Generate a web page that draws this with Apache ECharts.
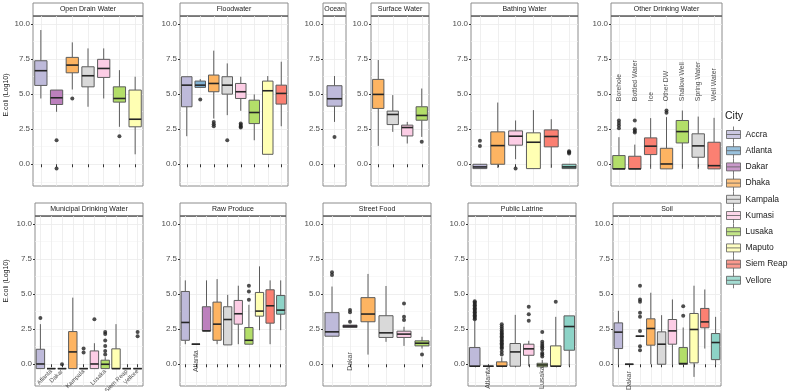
<!DOCTYPE html>
<html>
<head>
<meta charset="utf-8">
<script src="https://cdn.jsdelivr.net/npm/echarts@6/dist/echarts.min.js"></script>
<style>html,body{margin:0;padding:0;background:#fff}#chart{width:789px;height:391px}</style>
</head>
<body>
<div id="chart"></div>
<script>
const cities = ['Accra', 'Atlanta', 'Dakar', 'Dhaka', 'Kampala', 'Kumasi', 'Lusaka', 'Maputo', 'Siem Reap', 'Vellore']
const cityColors = ['#BEBADA', '#80B1D3', '#BC80BD', '#FDB462', '#D9D9D9', '#FCCDE5', '#B3DE69', '#FFFFB3', '#FB8072', '#8DD3C7']
const yTicks = [0, 2.5, 5, 7.5, 10]
const yMinorTicks = [-1.25, 1.25, 3.75, 6.25, 8.75]

// boxes are [min, q1, median, q3, max] (log10 E.coli)
const openDrainCats = ['Accra', 'Dakar', 'Dhaka', 'Kampala', 'Kumasi', 'Lusaka', 'Maputo']
const openDrainBoxes = [
  [4.69, 5.62, 6.67, 7.38, 9.57], [3.74, 4.26, 4.74, 5.29, 5.29], [5.33, 6.52, 7.07, 7.62, 8.69],
  [4.1, 5.52, 6.31, 6.95, 8.26], [4.69, 6.19, 6.83, 7.48, 8.26], [2.67, 4.43, 4.69, 5.52, 6.71],
  [0.71, 2.67, 3.21, 5.29, 6.24]
]
const openDrainOutliers = [['Dakar', 1.71], ['Dakar', -0.31], ['Dhaka', 4.69], ['Lusaka', 2.0]]

const floodCats = ['Accra', 'Atlanta', 'Dhaka', 'Kampala', 'Kumasi', 'Lusaka', 'Maputo', 'Siem Reap']
const floodBoxes = [
  [2.0, 4.1, 5.64, 6.24, 6.24], [5.48, 5.48, 5.64, 5.93, 6.07], [3.26, 5.17, 5.76, 6.36, 8.1],
  [3.5, 5.0, 5.64, 6.24, 7.19], [3.81, 4.69, 5.17, 5.76, 6.24], [1.71, 2.9, 3.69, 4.57, 4.98],
  [0.71, 0.71, 5.24, 5.93, 6.29], [2.71, 4.29, 5.05, 5.64, 7.31]
]
const floodOutliers = [['Atlanta', 4.62], ['Dhaka', 3.02], ['Dhaka', 2.86], ['Dhaka', 2.71], ['Kampala', 1.71],
  ['Kumasi', 2.9], ['Kumasi', 2.8], ['Kumasi', 2.7], ['Kumasi', 2.62]]

const oceanCats = ['Accra']
const oceanBoxes = [[3.02, 4.14, 4.67, 5.6, 6.29]]
const oceanOutliers = [['Accra', 1.95]]

const surfaceCats = ['Dhaka', 'Kampala', 'Kumasi', 'Lusaka']
const surfaceBoxes = [
  [1.31, 3.98, 4.98, 6.05, 7.43], [2.31, 2.83, 3.55, 3.79, 4.93],
  [1.48, 2.02, 2.62, 2.79, 3.02], [1.95, 3.14, 3.48, 4.1, 5.4]
]
const surfaceOutliers = [['Lusaka', 1.6]]

const bathingCats = ['Accra', 'Dhaka', 'Kumasi', 'Maputo', 'Siem Reap', 'Vellore']
const bathingBoxes = [
  [-0.31, -0.31, -0.19, 0.0, 0.0], [-0.26, 0.0, 1.33, 2.31, 4.4], [0.36, 1.36, 2.0, 2.38, 3.12],
  [-0.31, -0.31, 1.57, 2.24, 3.86], [-0.26, 1.24, 1.98, 2.45, 3.21], [-0.31, -0.31, -0.19, 0.0, 0.0]
]
const bathingOutliers = [['Accra', 1.67], ['Accra', 1.31], ['Kumasi', -0.31], ['Vellore', 0.93], ['Vellore', 0.85], ['Vellore', 0.76]]

const otherDwCats = ['Borehole', 'Bottled Water', 'Ice', 'Other DW', 'Shallow Well', 'Spring Water', 'Well Water']
const otherDwCity = ['Lusaka', 'Siem Reap', 'Siem Reap', 'Dhaka', 'Lusaka', 'Kampala', 'Siem Reap']
const otherDwBoxes = [
  [-0.33, -0.33, -0.33, 0.62, 1.93], [-0.33, -0.33, -0.33, 0.57, 1.4], [-0.33, 0.69, 1.29, 1.88, 3.29],
  [-0.33, -0.33, 0.02, 1.14, 3.36], [-0.33, 1.52, 2.33, 3.12, 3.83], [-0.33, 0.5, 1.31, 2.17, 3.4],
  [-0.33, -0.33, -0.1, 1.57, 3.31]
]
const otherDwOutliers = [['Borehole', 3.12], ['Borehole', 2.95], ['Borehole', 2.76], ['Borehole', 2.57],
  ['Bottled Water', 3.12], ['Bottled Water', 2.5], ['Bottled Water', 2.38], ['Bottled Water', 2.26],
  ['Other DW', 3.83], ['Other DW', 3.67]]
const otherDwLabels = [['Borehole', 4.5, 'Borehole'], ['Bottled Water', 4.5, 'Bottled Water'], ['Ice', 4.5, 'Ice'],
  ['Other DW', 4.5, 'Other DW'], ['Shallow Well', 4.5, 'Shallow Well'], ['Spring Water', 4.5, 'Spring Water'],
  ['Well Water', 4.5, 'Well Water']]

const municipalCats = cities
const municipalBoxes = [
  [-0.31, -0.31, 0.02, 1.07, 2.86], [-0.31, -0.31, -0.31, -0.31, -0.31], [-0.31, -0.31, -0.31, -0.31, -0.31],
  [-0.31, -0.31, 0.88, 2.33, 4.75], [-0.31, -0.31, -0.31, -0.31, -0.31], [-0.31, -0.31, 0.02, 0.95, 1.5],
  [-0.31, -0.31, 0.0, 0.29, 0.5], [-0.31, -0.31, -0.31, 1.1, 2.86], [-0.31, -0.31, -0.31, -0.31, -0.31],
  [-0.31, -0.31, -0.31, -0.31, -0.31]
]
const municipalOutliers = [['Accra', 3.3], ['Dakar', 0.0], ['Kampala', 1.12], ['Kampala', 0.84], ['Kumasi', 3.2],
  ['Lusaka', 2.3], ['Lusaka', 2.15], ['Lusaka', 1.7], ['Lusaka', 1.3], ['Lusaka', 0.95], ['Lusaka', 0.7],
  ['Vellore', 2.3], ['Vellore', 2.0]]
const municipalLabels = [['Atlanta', -0.45, 'Atlanta'], ['Dakar', -0.45, 'Dakar'], ['Kampala', -0.45, 'Kampala'],
  ['Lusaka', -0.45, 'Lusaka'], ['Siem Reap', -0.45, 'Siem Reap'], ['Vellore', -0.45, 'Vellore']]

const produceCats = cities
const produceBoxes = [
  [1.43, 1.71, 2.98, 5.19, 5.98], [1.43, 1.43, 1.43, 1.43, 1.43], [2.38, 2.38, 2.38, 4.1, 5.98],
  [1.43, 1.71, 2.86, 4.43, 6.07], [1.38, 1.38, 3.19, 4.1, 4.95], [1.43, 2.86, 3.6, 4.55, 5.6],
  [1.43, 1.43, 1.71, 2.62, 4.24], [2.43, 3.43, 3.79, 5.12, 6.98], [1.43, 2.93, 4.17, 5.31, 5.98],
  [2.43, 3.57, 3.86, 4.9, 5.98]
]
const produceOutliers = [['Lusaka', 5.6], ['Lusaka', 5.19], ['Lusaka', 4.6]]
const produceLabels = [['Atlanta', 1.0, 'Atlanta']]

const streetCats = ['Accra', 'Dakar', 'Dhaka', 'Kampala', 'Kumasi', 'Lusaka']
const streetBoxes = [
  [2.0, 2.0, 2.31, 3.68, 5.54], [2.62, 2.62, 2.72, 2.79, 2.79], [0.69, 3.03, 3.58, 4.75, 6.44],
  [1.6, 1.91, 2.24, 3.46, 5.58], [1.31, 1.91, 2.15, 2.36, 2.67], [1.12, 1.31, 1.5, 1.67, 1.96]
]
const streetOutliers = [['Accra', 6.56], ['Accra', 6.37], ['Dakar', 3.87], ['Dakar', 3.7], ['Dakar', 3.03],
  ['Kumasi', 4.34], ['Kumasi', 3.39], ['Kumasi', 3.15], ['Lusaka', 0.69]]
const streetLabels = [['Dakar', 0.86, 'Dakar']]

const latrineCats = ['Accra', 'Atlanta', 'Dhaka', 'Kampala', 'Kumasi', 'Lusaka', 'Maputo', 'Vellore']
const latrineBoxes = [
  [-0.14, -0.14, -0.14, 1.19, 3.1], [-0.14, -0.14, -0.14, -0.14, -0.14], [-0.14, -0.14, -0.14, 0.17, 0.5],
  [-0.14, -0.14, 0.88, 1.48, 3.52], [-0.14, 0.64, 1.1, 1.43, 1.67], [-0.18, -0.18, -0.05, 0.07, 0.3],
  [-0.14, -0.14, -0.14, 1.31, 3.38], [-0.14, 1.0, 2.69, 3.45, 3.45]
]
const latrineOutliers = [
  ['Accra', 4.5], ['Accra', 4.4], ['Accra', 4.3], ['Accra', 4.2], ['Accra', 4.1], ['Accra', 4.0], ['Accra', 3.9],
  ['Accra', 3.8], ['Accra', 3.7], ['Accra', 3.6], ['Accra', 3.5], ['Accra', 3.4], ['Accra', 3.3], ['Accra', 3.2],
  ['Dhaka', 2.85], ['Dhaka', 2.7], ['Dhaka', 2.55], ['Dhaka', 2.4], ['Dhaka', 2.3], ['Dhaka', 2.2], ['Dhaka', 2.1],
  ['Dhaka', 2.0], ['Dhaka', 1.9], ['Dhaka', 1.8], ['Dhaka', 1.7], ['Dhaka', 1.6], ['Dhaka', 1.5], ['Dhaka', 1.4],
  ['Dhaka', 1.3], ['Dhaka', 1.2], ['Dhaka', 1.1], ['Dhaka', 0.9], ['Dhaka', 0.7],
  ['Kumasi', 4.1], ['Kumasi', 3.57], ['Kumasi', 3.1],
  ['Lusaka', 2.3], ['Lusaka', 1.6], ['Lusaka', 1.45], ['Lusaka', 1.3], ['Lusaka', 1.2], ['Lusaka', 1.05],
  ['Lusaka', 0.8], ['Lusaka', 0.7], ['Lusaka', 0.55],
  ['Maputo', 4.45]
]
const latrineLabels = [['Atlanta', -0.2, 'Atlanta'], ['Lusaka', -0.15, 'Lusaka']]

const soilCats = cities
const soilBoxes = [
  [0, 1.12, 2.29, 2.95, 3.81], [0, 0, 0, 0, 0], [2.0, 2.0, 2.0, 2.0, 2.0],
  [0, 1.36, 2.55, 3.24, 5.1], [0, 0, 1.43, 2.31, 3.5], [0, 1.43, 2.38, 3.19, 4.62],
  [0, 0, 0.05, 1.19, 2.62], [-0.9, 0.1, 2.48, 3.62, 5.6], [1.12, 2.6, 3.02, 3.98, 5.33],
  [0, 0.33, 1.55, 2.19, 3.38]
]
const soilOutliers = [['Dakar', 5.6], ['Dakar', 4.62], ['Dakar', 4.45], ['Dakar', 3.67], ['Dakar', 3.38],
  ['Dakar', 2.38], ['Dakar', 1.29], ['Dakar', 1.0], ['Lusaka', 4.14], ['Lusaka', 3.45]]
const soilLabels = [['Atlanta', -0.5, 'Dakar']]

const FONT = 'Liberation Sans'
const Y_MIN = -1.55
const Y_MAX = 10.57
const PLOT_H = 170

const panels = [
  { title: 'Open Drain Water', cats: openDrainCats, fills: openDrainCats, boxes: openDrainBoxes, outliers: openDrainOutliers, left: 33, top: 16, width: 110 },
  { title: 'Floodwater', cats: floodCats, fills: floodCats, boxes: floodBoxes, outliers: floodOutliers, left: 180, top: 16, width: 108 },
  { title: 'Ocean', cats: oceanCats, fills: oceanCats, boxes: oceanBoxes, outliers: oceanOutliers, left: 323, top: 16, width: 23, boxFrac: 0.65 },
  { title: 'Surface Water', cats: surfaceCats, fills: surfaceCats, boxes: surfaceBoxes, outliers: surfaceOutliers, left: 371, top: 16, width: 58 },
  { title: 'Bathing Water', cats: bathingCats, fills: bathingCats, boxes: bathingBoxes, outliers: bathingOutliers, left: 471, top: 16, width: 107 },
  { title: 'Other Drinking Water', cats: otherDwCats, fills: otherDwCity, boxes: otherDwBoxes, outliers: otherDwOutliers, labels: otherDwLabels, labelStyle: 'up', left: 611, top: 16, width: 111 },
  { title: 'Municipal Drinking Water', cats: municipalCats, fills: municipalCats, boxes: municipalBoxes, outliers: municipalOutliers, labels: municipalLabels, labelStyle: 'diag', left: 35, top: 216, width: 108 },
  { title: 'Raw Produce', cats: produceCats, fills: produceCats, boxes: produceBoxes, outliers: produceOutliers, labels: produceLabels, labelStyle: 'down', left: 180, top: 216, width: 106 },
  { title: 'Street Food', cats: streetCats, fills: streetCats, boxes: streetBoxes, outliers: streetOutliers, labels: streetLabels, labelStyle: 'down', left: 323, top: 216, width: 108 },
  { title: 'Public Latrine', cats: latrineCats, fills: latrineCats, boxes: latrineBoxes, outliers: latrineOutliers, labels: latrineLabels, labelStyle: 'down', left: 468, top: 216, width: 108 },
  { title: 'Soil', cats: soilCats, fills: soilCats, boxes: soilBoxes, outliers: soilOutliers, labels: soilLabels, labelStyle: 'down', left: 613, top: 216, width: 108 }
]

const labelStyles = {
  up: { rotate: 90, align: 'left', fontSize: 6.8 },
  down: { rotate: 90, align: 'right', fontSize: 7 },
  diag: { rotate: 45, align: 'right', fontSize: 6 }
}

const colorOf = (city) => cityColors[cities.indexOf(city)]

const boxRenderer = (fills, frac) => (params, api) => {
  const xi = api.value(0)
  const lo = api.coord([xi, api.value(1)])
  const q1 = api.coord([xi, api.value(2)])
  const md = api.coord([xi, api.value(3)])
  const q3 = api.coord([xi, api.value(4)])
  const hi = api.coord([xi, api.value(5)])
  const bw = api.size([1, 0])[0] * frac
  const cx = md[0]
  const stroke = '#5c5c5c'
  return {
    type: 'group',
    children: [
      { type: 'line', shape: { x1: cx, y1: hi[1], x2: cx, y2: q3[1] }, style: { stroke, lineWidth: 1 } },
      { type: 'line', shape: { x1: cx, y1: q1[1], x2: cx, y2: lo[1] }, style: { stroke, lineWidth: 1 } },
      { type: 'rect', shape: { x: cx - bw / 2, y: q3[1], width: bw, height: q1[1] - q3[1] }, style: { fill: colorOf(fills[params.dataIndex]), stroke, lineWidth: 1 } },
      { type: 'line', shape: { x1: cx - bw / 2, y1: md[1], x2: cx + bw / 2, y2: md[1] }, style: { stroke: '#262626', lineWidth: 1.6 } }
    ]
  }
}

const grids = []
const xAxes = []
const yAxes = []
const series = []
const graphics = []

panels.forEach((p, i) => {
  grids.push({ left: p.left, top: p.top, width: p.width, height: PLOT_H, show: true, borderColor: '#8c8c8c', borderWidth: 1, backgroundColor: '#fff' })
  xAxes.push({
    type: 'category', gridIndex: i, data: p.cats, boundaryGap: true,
    axisLine: { show: false },
    axisTick: { show: true, interval: 0, alignWithLabel: true, length: 3, lineStyle: { color: '#333' } },
    axisLabel: { show: false, interval: 0 },
    splitLine: { show: true, interval: 0, alignWithLabel: true, lineStyle: { color: '#ebebeb', width: 0.8 } }
  })
  yAxes.push({
    type: 'value', gridIndex: i, min: Y_MIN, max: Y_MAX, position: 'left',
    axisLine: { show: false },
    axisTick: { show: true, length: 2, customValues: yTicks, lineStyle: { color: '#333' } },
    axisLabel: { customValues: yTicks, formatter: (v) => v.toFixed(1), fontSize: 8, color: '#4d4d4d', margin: 3, fontFamily: FONT },
    splitLine: { show: true, lineStyle: { color: '#ebebeb', width: 0.8 } }
  })
  yAxes.push({
    type: 'value', gridIndex: i, min: Y_MIN, max: Y_MAX, position: 'left',
    axisLine: { show: false },
    axisTick: { show: false, customValues: yMinorTicks },
    axisLabel: { show: false },
    splitLine: { show: true, lineStyle: { color: '#f4f4f4', width: 0.6 } }
  })

  series.push({
    type: 'custom', xAxisIndex: i, yAxisIndex: 2 * i, silent: true,
    renderItem: boxRenderer(p.fills, p.boxFrac || 0.78),
    encode: { x: 0, y: [1, 2, 3, 4, 5] },
    data: p.boxes.map((b, k) => [k].concat(b))
  })
  series.push({
    type: 'scatter', xAxisIndex: i, yAxisIndex: 2 * i, silent: true,
    symbolSize: 4, itemStyle: { color: '#222' },
    data: p.outliers.map(([c, v]) => [p.cats.indexOf(c), v])
  })
  if (p.labels) {
    const ls = labelStyles[p.labelStyle]
    series.push({
      type: 'scatter', xAxisIndex: i, yAxisIndex: 2 * i, silent: true, symbolSize: 0,
      label: {
        show: true, position: 'inside', formatter: '{b}', rotate: ls.rotate, align: ls.align,
        verticalAlign: 'middle', fontSize: ls.fontSize, color: '#1a1a1a', fontFamily: FONT
      },
      data: p.labels.map(([c, v, t]) => ({ name: t, value: [p.cats.indexOf(c), v] }))
    })
  }

  graphics.push({
    type: 'rect', shape: { x: p.left, y: p.top - 13, width: p.width, height: 13 },
    style: { fill: '#fff', stroke: '#8c8c8c', lineWidth: 1 }, silent: true
  })
  graphics.push({
    type: 'line', shape: { x1: p.left, y1: p.top, x2: p.left + p.width, y2: p.top },
    style: { stroke: '#444', lineWidth: 1 }, silent: true
  })
  graphics.push({
    type: 'text', x: p.left + p.width / 2, y: p.top - 6.5, silent: true,
    style: { text: p.title, align: 'center', verticalAlign: 'middle', font: '7px "Liberation Sans"', fill: '#1a1a1a' }
  })
})

// y axis titles and legend title
graphics.push({ type: 'text', x: 6, y: 95, rotation: Math.PI / 2, silent: true,
  style: { text: 'E.coli (Log10)', align: 'center', verticalAlign: 'middle', font: '7px "Liberation Sans"', fill: '#1a1a1a' } })
graphics.push({ type: 'text', x: 6, y: 281, rotation: Math.PI / 2, silent: true,
  style: { text: 'E.coli (Log10)', align: 'center', verticalAlign: 'middle', font: '7px "Liberation Sans"', fill: '#1a1a1a' } })
graphics.push({ type: 'text', x: 725, y: 116, silent: true,
  style: { text: 'City', align: 'left', verticalAlign: 'middle', font: '10.5px "Liberation Sans"', fill: '#1a1a1a' } })

// empty series so the legend has one entry per city
cities.forEach((c) => {
  series.push({ type: 'scatter', name: c, xAxisIndex: 0, yAxisIndex: 0, data: [] })
})

const chart = echarts.init(document.getElementById('chart'))
chart.setOption({
  animation: false,
  textStyle: { fontFamily: FONT },
  grid: grids,
  xAxis: xAxes,
  yAxis: yAxes,
  series,
  graphic: { elements: graphics },
  legend: {
    orient: 'vertical', left: 726, top: 126, padding: 0, itemWidth: 14, itemHeight: 16, itemGap: -0.8,
    selectedMode: false,
    icon: 'path://M0,4L14,4L14,12L0,12Z M0,8L14,8 M7,0L7,4 M7,12L7,16',
    textStyle: { fontSize: 8.5, color: '#1a1a1a', fontFamily: FONT },
    data: cities.map((c, k) => ({ name: c, itemStyle: { color: cityColors[k], borderColor: '#5c5c5c', borderWidth: 1 } }))
  }
})
</script>
</body>
</html>
